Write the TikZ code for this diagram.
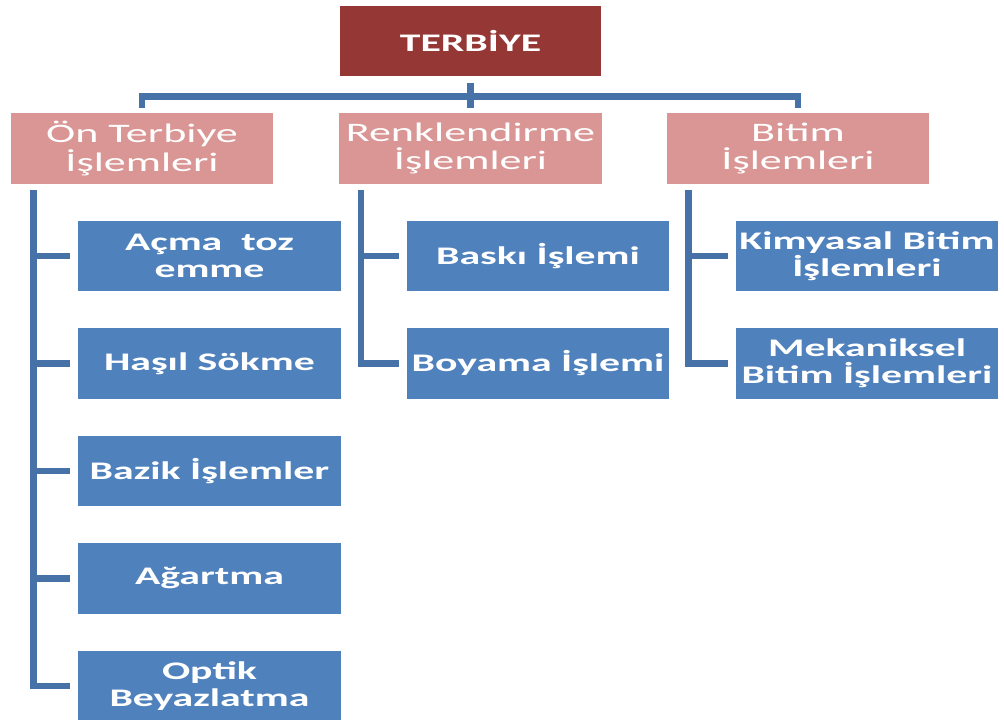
\documentclass[tikz,border=0pt]{standalone}
\usepackage{fontspec}
\setmainfont{Carlito}[FakeStretch=1.65]
\usetikzlibrary{calc}
\definecolor{topred}{RGB}{149,55,53}
\definecolor{headpink}{RGB}{217,150,148}
\definecolor{boxblue}{RGB}{79,129,189}
\definecolor{busblue}{RGB}{70,114,167}
\tikzset{
    topbox/.style={fill=topred,text=white,font=\fontsize{18}{19.5}\selectfont\bfseries,
        minimum width=6.525cm,minimum height=1.75cm,inner sep=1pt,align=center},
    headbox/.style={fill=headpink,text=white,font=\fontsize{19}{20.5}\selectfont,
        minimum width=6.55cm,minimum height=1.775cm,inner sep=1pt,align=center},
    leafbox/.style={fill=boxblue,text=white,font=\fontsize{18}{19.5}\selectfont\bfseries,
        minimum width=6.55cm,minimum height=1.75cm,inner sep=1pt,align=center},
    bus/.style={draw=busblue,line width=4.6pt,line join=miter}
}
\begin{document}
\begin{tikzpicture}[x=0.025cm,y=-0.025cm]
        \useasboundingbox (0,0) rectangle (1004,720);

        \node[topbox] (terbiye) at (470.5,41) {TERBİYE};

        \node[headbox] (on) at (142,148.5) {Ön Terbiye\\İşlemleri};
        \node[headbox] (renk) at (470.5,148.5) {Renklendirme\\İşlemleri};
        \node[headbox] (bitim) at (798,148.5) {Bitim\\İşlemleri};

        \node[leafbox] (acma) at (209.5,256) {Açma~~toz\\emme};
        \node[leafbox] (hasil) at (209.5,363.5) {Haşıl Sökme};
        \node[leafbox] (bazik) at (209.5,471) {Bazik İşlemler};
        \node[leafbox] (agartma) at (209.5,578.5) {Ağartma};
        \node[leafbox] (optik) at (209.5,686) {Optik\\Beyazlatma};

        \node[leafbox] (baski) at (538,256) {Baskı İşlemi};
        \node[leafbox] (boyama) at (538,363.5) {Boyama İşlemi};

        \node[leafbox] (kimya) at (867,256) {Kimyasal Bitim\\İşlemleri};
        \node[leafbox] (mekanik) at (867,363.5) {Mekaniksel\\Bitim İşlemleri};

        % top level
        \draw[bus] ($(terbiye.south)+(0,7)$) -- ($(renk.north)+(0,-5)$);
        \draw[bus] ($(on.north)+(0,-5)$) -- ++(0,-11) -| ($(bitim.north)+(0,-5)$);

        % bus lines under the headers
        \coordinate (onbus) at ($(on.south west)+(23,6)$);
        \coordinate (renkbus) at ($(renk.south west)+(22,6)$);
        \coordinate (bitimbus) at ($(bitim.south west)+(22,6)$);

        \draw[bus] (onbus) |- ($(optik.west)+(-8,0)$);
        \foreach \n in {acma,hasil,bazik,agartma}
            \draw[bus] (onbus |- \n.west) -- ($(\n.west)+(-8,0)$);

        \draw[bus] (renkbus) |- ($(boyama.west)+(-8,0)$);
        \draw[bus] (renkbus |- baski.west) -- ($(baski.west)+(-8,0)$);

        \draw[bus] (bitimbus) |- ($(mekanik.west)+(-8,0)$);
        \draw[bus] (bitimbus |- kimya.west) -- ($(kimya.west)+(-8,0)$);
    \end{tikzpicture}
\end{document}
